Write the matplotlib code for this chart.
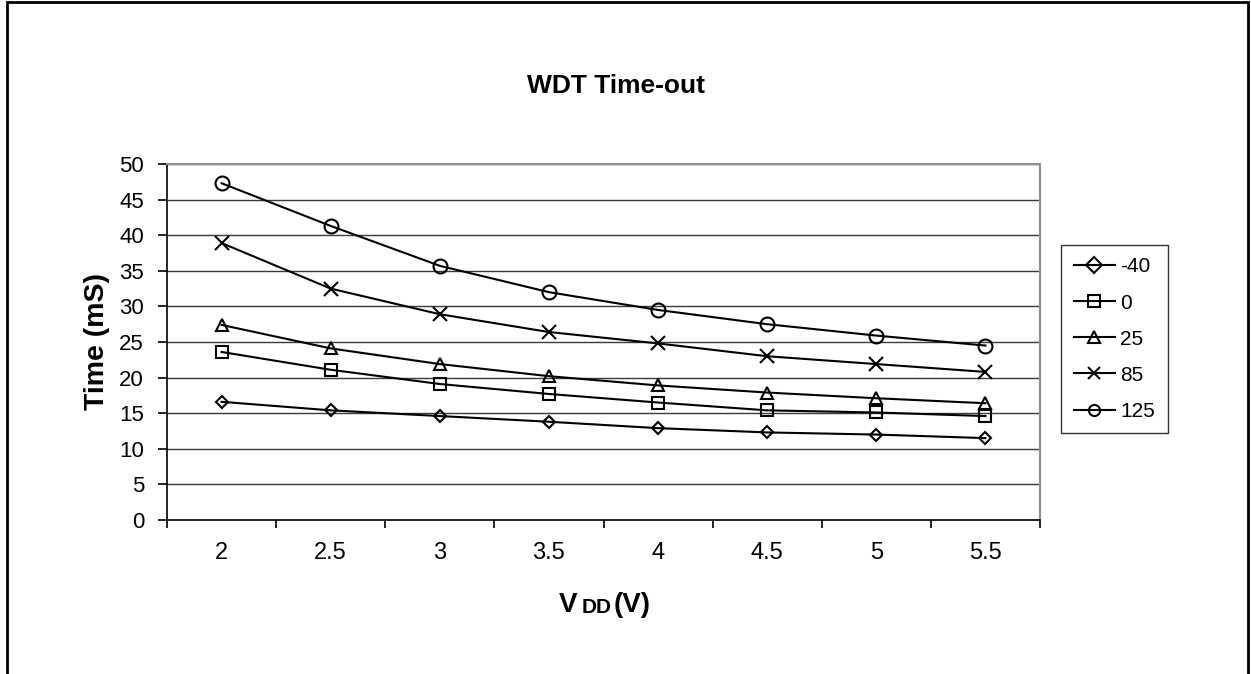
import matplotlib
matplotlib.use("Agg")
import matplotlib.pyplot as plt
from matplotlib.patches import Rectangle

plt.rcParams['font.family'] = ['Liberation Sans', 'DejaVu Sans']

categories = ["2", "2.5", "3", "3.5", "4", "4.5", "5", "5.5"]
series_names = ["-40", "0", "25", "85", "125"]
s_m40 = [16.6, 15.4, 14.6, 13.8, 12.9, 12.3, 12.0, 11.5]
s_0 = [23.6, 21.1, 19.1, 17.7, 16.5, 15.4, 15.1, 14.6]
s_25 = [27.4, 24.1, 21.9, 20.2, 18.9, 17.9, 17.1, 16.4]
s_85 = [38.9, 32.5, 28.9, 26.4, 24.8, 23.0, 21.9, 20.8]
s_125 = [47.3, 41.3, 35.7, 32.0, 29.5, 27.5, 25.9, 24.5]
y_ticks = [0, 5, 10, 15, 20, 25, 30, 35, 40, 45, 50]

series = [s_m40, s_0, s_25, s_85, s_125]
markers = ['D', 's', '^', 'x', 'o']
msizes = [6.5, 9, 9, 10, 10]

W, H = 1251, 674
fig = plt.figure(figsize=(W / 100, H / 100), dpi=100)
ax = fig.add_axes([167 / W, 1 - 520 / H, (1040 - 167) / W, (520 - 164) / H])

x = list(range(len(categories)))
for name, vals, m, ms in zip(series_names, series, markers, msizes):
    ax.plot(x, vals, color='black', lw=1.5, marker=m, ms=ms,
            markerfacecolor='none', markeredgecolor='black',
            markeredgewidth=1.5, label=name)

ax.set_xlim(-0.5, len(categories) - 0.5)
ax.set_ylim(0, 50)
ax.set_yticks(y_ticks)
ax.set_yticklabels([str(v) for v in y_ticks], fontsize=16)
ax.set_xticks(x)
ax.set_xticklabels(categories, fontsize=17)
ax.tick_params(axis='x', which='major', length=0, pad=16)
ax.set_xticks([i - 0.5 for i in range(len(categories) + 1)], minor=True)
ax.tick_params(axis='x', which='minor', length=6, width=1.2, direction='out')
ax.tick_params(axis='y', length=6.5, width=1.2, direction='out', pad=10)

ax.grid(axis='y', color='#3a3a3a', lw=1.0)
ax.set_axisbelow(True)
for s in ['left', 'bottom']:
    ax.spines[s].set_color('black')
    ax.spines[s].set_linewidth(1.2)
for s in ['top', 'right']:
    ax.spines[s].set_color('#909090')
    ax.spines[s].set_linewidth(1.5)

fig.text(97 / W, 1 - 342 / H, 'Time (mS)', fontsize=20.5, fontweight='bold',
         rotation=90, ha='center', va='center')
fig.text(616 / W, 1 - 86 / H, 'WDT Time-out', fontsize=19, fontweight='bold',
         ha='center', va='center')

# x axis label: V with DD subscript, then (V)
base_y = 1 - 612 / H
t1 = fig.text(559 / W, base_y, 'V', fontsize=20, fontweight='bold',
              ha='left', va='baseline')
renderer = fig.canvas.get_renderer()
bb1 = t1.get_window_extent(renderer)
t2 = fig.text((bb1.x1 + 4) / W, base_y - 1 / H, 'DD', fontsize=15,
              fontweight='bold', ha='left', va='baseline')
bb2 = t2.get_window_extent(renderer)
fig.text((bb2.x1 + 2) / W, base_y, '(V)', fontsize=20, fontweight='bold',
         ha='left', va='baseline')

leg = ax.legend(loc='upper left', bbox_to_anchor=(1061 / W, 1 - 245 / H),
                bbox_transform=fig.transFigure, fontsize=15, frameon=True,
                fancybox=False, edgecolor='black', handlelength=2.0,
                labelspacing=0.82, borderpad=0.6, handletextpad=0.25,
                borderaxespad=0)
leg.get_frame().set_linewidth(1.0)
for h in leg.legend_handles:
    h.set_markersize(8)

fig.patches.append(Rectangle((7 / W, -0.05), (1248 - 7) / W, 1 - 2 / H + 0.05,
                             transform=fig.transFigure, fill=False,
                             edgecolor='black', lw=2))

fig.savefig('out.png', dpi=100)
